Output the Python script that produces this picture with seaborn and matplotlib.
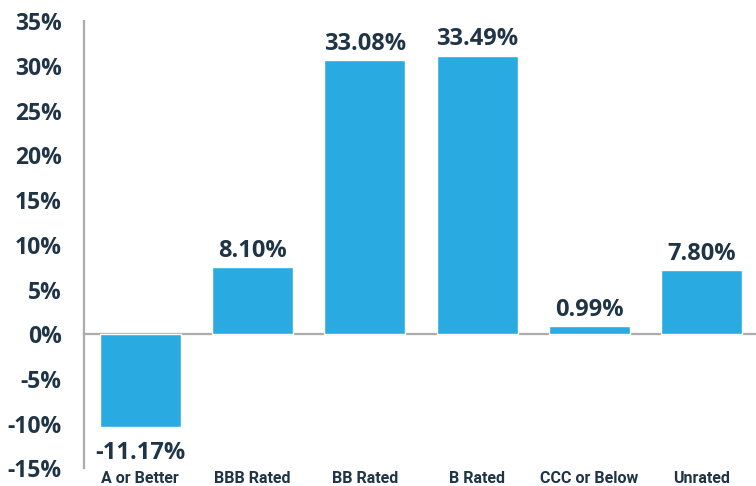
import matplotlib
matplotlib.use("Agg")
import matplotlib.pyplot as plt
import seaborn as sns
import pandas as pd

categories = ["A or Better", "BBB Rated", "BB Rated", "B Rated", "CCC or Below", "Unrated"]
bar_heights = [-10.33, 7.53, 30.68, 31.17, 0.93, 7.19]
value_labels = ["-11.17%", "8.10%", "33.08%", "33.49%", "0.99%", "7.80%"]
y_ticks = [-15, -10, -5, 0, 5, 10, 15, 20, 25, 30, 35]
y_tick_labels = [f"{t}%" for t in y_ticks]

BAR = "#29abe2"
TXT = "#1f3547"
GRAY = "#acacac"

sns.set_style("white")
plt.rcParams["font.family"] = ["Open Sans", "DejaVu Sans"]

df = pd.DataFrame({"cat": categories, "val": bar_heights})

fig = plt.figure(figsize=(7.56, 4.86), dpi=100)
ax = fig.add_axes([84 / 756, 1 - 468.4 / 486, 674 / 756, (468.4 - 21.3) / 486])

sns.barplot(data=df, x="cat", y="val", color=BAR, width=0.72, saturation=1, ax=ax, zorder=2)

ax.set_xlim(-0.5, 5.5)
ax.set_ylim(-15, 35)
ax.set_xlabel("")
ax.set_ylabel("")

for s in ["top", "right"]:
    ax.spines[s].set_visible(False)
ax.spines["left"].set_color(GRAY)
ax.spines["left"].set_linewidth(1.6)
ax.spines["bottom"].set_position(("data", 0))
ax.spines["bottom"].set_color(GRAY)
ax.spines["bottom"].set_linewidth(1.6)
ax.spines["bottom"].set_zorder(1)

ax.set_yticks(y_ticks)
ax.set_yticklabels(y_tick_labels, fontsize=16.5, fontweight="bold", color=TXT)
ax.tick_params(axis="y", direction="out", length=4, width=1.6, color=GRAY, pad=12)

ax.set_xticks([0.5, 1.5, 2.5, 3.5, 4.5])
ax.set_xticklabels([])
ax.tick_params(axis="x", direction="out", length=5, width=1.6, color=GRAY)

for i, (h, lab) in enumerate(zip(bar_heights, value_labels)):
    if h >= 0:
        ax.annotate(lab, (i, h), xytext=(0, 3), textcoords="offset points",
                    ha="center", va="bottom", fontsize=17, fontweight="bold", color=TXT)
    else:
        ax.annotate(lab, (i, h), xytext=(0, -10), textcoords="offset points",
                    ha="center", va="top", fontsize=17, fontweight="bold", color=TXT)

for i, c in enumerate(categories):
    ax.annotate(c, (i, -15), xytext=(0, -7.5), textcoords="offset points",
                ha="center", va="center", fontsize=11.5, fontweight="bold",
                color=TXT, family=["Roboto", "DejaVu Sans"], annotation_clip=False)

fig.savefig("out.png", dpi=100)
